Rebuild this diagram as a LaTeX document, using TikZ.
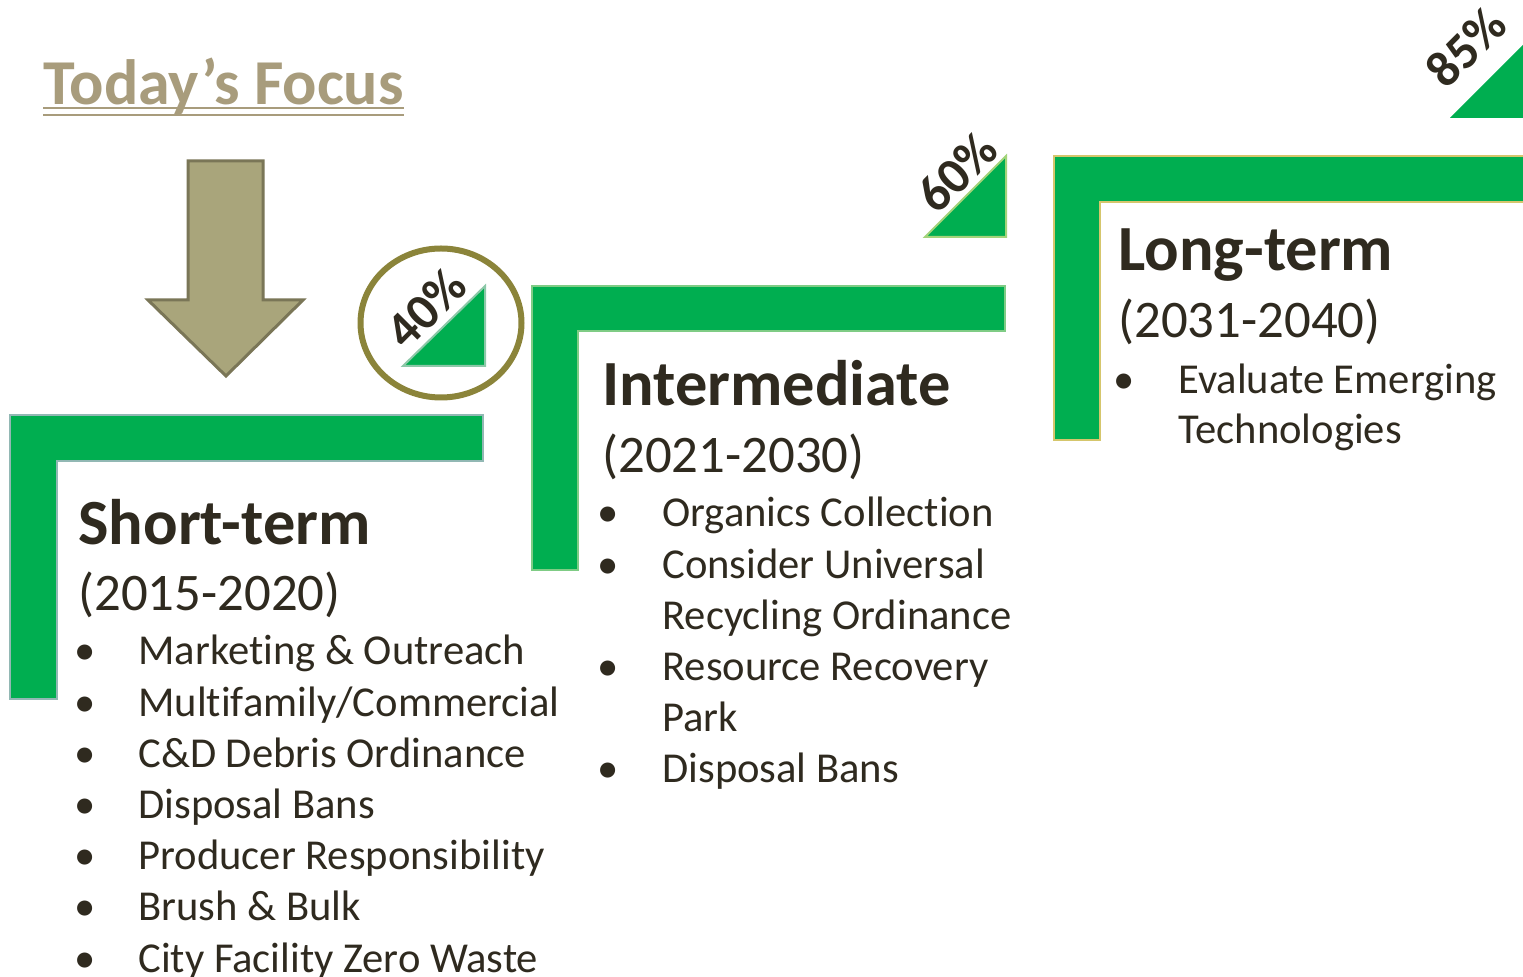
\documentclass[tikz,border=0pt]{standalone}
\usepackage{fontspec}
\setmainfont{Carlito}[Ligatures=NoCommon]
\definecolor{grn}{HTML}{00AE50}
\definecolor{txt}{HTML}{2F2A1F}
\definecolor{tancol}{HTML}{A89C7C}
\definecolor{arrowfill}{HTML}{A9A57B}
\definecolor{arrowline}{HTML}{7A7657}
\definecolor{ringcol}{HTML}{8B843A}
\definecolor{edgeA}{HTML}{92B8B4}
\definecolor{edgeB}{HTML}{7FCC85}
\definecolor{edgeC}{HTML}{D5C66C}
\definecolor{edgeT}{HTML}{8CC8A8}
\definecolor{edgeS}{HTML}{A3D47A}
\begin{document}
\begin{tikzpicture}[x=0.5pt,y=-0.5pt,
  bracketshape/.style={fill=grn,line width=1pt,line join=miter},
  trishape/.style={fill=grn,line width=1pt,line join=miter},
  headtext/.style={anchor=base west,inner sep=0pt,text=txt,font=\fontsize{32.2}{36}\selectfont\bfseries},
  yeartext/.style={anchor=base west,inner sep=0pt,text=txt,font=\fontsize{26.4}{30}\selectfont},
  itemtext/.style={anchor=base west,inner sep=0pt,text=txt,font=\fontsize{21.3}{25}\selectfont},
  bultext/.style={anchor=base,inner sep=0pt,text=txt,font=\fontsize{21.3}{25}\selectfont},
  pcttext/.style={anchor=center,inner sep=0pt,text=txt,rotate=45,font=\fontsize{25.5}{30}\selectfont\bfseries}
]
\useasboundingbox (0,0) rectangle (1523,977);
\fill[white] (0,0) rectangle (1523,977);
\clip (0,0) rectangle (1523,977);

% title
\node[anchor=base west,inner sep=0pt,text=tancol,font=\fontsize{32}{36}\selectfont\bfseries] (title) at (43,105) {Today’s Focus};
\draw[tancol,line width=1pt] (title.west |- 0,108) coordinate (u1) -- (title.east |- 0,108) coordinate (u2);
\draw[tancol,line width=1pt] (title.west |- 0,115) coordinate (u3) -- (title.east |- 0,115) coordinate (u4);

% arrow
\draw[fill=arrowfill,draw=arrowline,line width=1.5pt,line join=miter]
  (188,161) -- (263,161) -- (263,300) -- (303,300) -- (226,376) -- (148,300) -- (188,300) -- cycle;

% brackets
\draw[bracketshape,draw=edgeA] (10,415) -- (483,415) -- (483,461) -- (57,461) -- (57,699) -- (10,699) -- cycle;
\draw[bracketshape,draw=edgeB] (532,286) -- (1005,286) -- (1005,331) -- (578,331) -- (578,570) -- (532,570) -- cycle;
\draw[bracketshape,draw=edgeC] (1054,156) -- (1540,156) -- (1540,202) -- (1100,202) -- (1100,440) -- (1054,440) -- cycle;

% ring + triangles
\draw[ringcol,line width=3pt] (441,323) ellipse [x radius=80.5, y radius=74.5];
\draw[trishape,draw=edgeT] (403,366) -- (485,366) -- (485,286) -- cycle;
\draw[trishape,draw=edgeS] (925,237) -- (1006,237) -- (1006,156) -- cycle;
\fill[grn] (1450,118) -- (1540,118) -- (1540,28) -- cycle;

\node[pcttext] (p40) at (426,308) {40\%};
\node[pcttext] (p60) at (957,172) {60\%};
\node[pcttext] (p85) at (1466,47) {85\%};

% short-term
\node[headtext] (sh) at (78,545) {Short-term};
\node[yeartext] (sy) at (78,611) {(2015-2020)};
\foreach \t [count=\i from 0] in {Marketing \& Outreach,Multifamily/Commercial,C\&D Debris Ordinance,Disposal Bans,Producer Responsibility,Brush \& Bulk,City Facility Zero Waste}{
  \node[bultext] (sb\i) at (85,665+51.2*\i) {•};
  \node[itemtext] (si\i) at (138,665+51.2*\i) {\t};
}

% intermediate
\node[headtext] (ih) at (602,406) {Intermediate};
\node[yeartext] (iy) at (602,473) {(2021-2030)};
\node[bultext] (ib0) at (608,527) {•};
\node[itemtext] (ii0) at (662,527) {Organics Collection};
\node[bultext] (ib1) at (608,578.2) {•};
\node[itemtext] (ii1) at (662,578.2) {Consider Universal};
\node[itemtext] (ii2) at (662,629.4) {Recycling Ordinance};
\node[bultext] (ib3) at (608,680.6) {•};
\node[itemtext] (ii3) at (662,680.6) {Resource Recovery};
\node[itemtext] (ii4) at (662,731.8) {Park};
\node[bultext] (ib5) at (608,783) {•};
\node[itemtext] (ii5) at (662,783) {Disposal Bans};

% long-term
\node[headtext] (lh) at (1118,271) {Long-term};
\node[yeartext] (ly) at (1118,338) {(2031-2040)};
\node[bultext] (lb0) at (1124,394) {•};
\node[itemtext] (li0) at (1178,394) {Evaluate Emerging};
\node[itemtext] (li1) at (1178,444) {Technologies};
\end{tikzpicture}
\end{document}
